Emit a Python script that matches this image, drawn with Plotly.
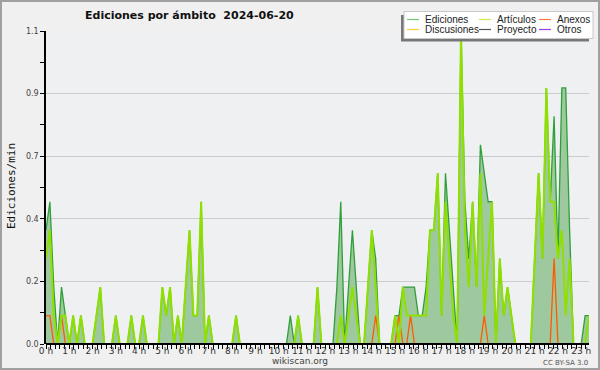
import plotly.graph_objects as go

# 10-minute slots of 2024-06-20, x in hours
slot_hours = [i / 6 for i in range(141)]

# edits per minute
ediciones = [
    0.4, 0.5, 0.2, 0, 0.2, 0.1, 0, 0.1, 0, 0.1,
    0, 0, 0, 0.1, 0.2, 0, 0, 0, 0.1, 0,
    0, 0, 0.1, 0, 0, 0.1, 0, 0, 0, 0,
    0.2, 0.1, 0.2, 0, 0.1, 0, 0.2, 0.4, 0.1, 0.1,
    0.5, 0, 0.1, 0, 0, 0, 0, 0, 0, 0.1,
    0, 0, 0, 0, 0, 0, 0, 0, 0, 0,
    0, 0, 0, 0.1, 0, 0.1, 0, 0, 0, 0,
    0.2, 0, 0, 0, 0, 0.2, 0.5, 0, 0.2, 0.4,
    0.2, 0, 0, 0.2, 0.4, 0.3, 0, 0, 0, 0,
    0.1, 0.1, 0.2, 0.2, 0.2, 0.2, 0.1, 0.1, 0.2, 0.4,
    0.4, 0.6, 0.1, 0.6, 0.4, 0.2, 0, 1.1, 0.5, 0.3,
    0.5, 0.2, 0.7, 0.6, 0.5, 0.5, 0, 0.3, 0.1, 0.2,
    0.1, 0, 0, 0, 0, 0, 0.3, 0.6, 0.3, 0.9,
    0.5, 0.8, 0.3, 0.9, 0.9, 0.4, 0, 0, 0, 0.1, 0.1,
]
articulos = [
    0.3, 0.4, 0.1, 0, 0.1, 0.1, 0, 0.1, 0, 0.1,
    0, 0, 0, 0.1, 0.2, 0, 0, 0, 0.1, 0,
    0, 0, 0.1, 0, 0, 0.1, 0, 0, 0, 0,
    0.2, 0.1, 0.2, 0, 0.1, 0, 0.2, 0.4, 0.1, 0.1,
    0.5, 0, 0.1, 0, 0, 0, 0, 0, 0, 0.1,
    0, 0, 0, 0, 0, 0, 0, 0, 0, 0,
    0, 0, 0, 0, 0, 0.1, 0, 0, 0, 0,
    0.2, 0, 0, 0, 0, 0, 0.1, 0, 0.1, 0.2,
    0.1, 0, 0, 0.2, 0.4, 0.2, 0, 0, 0, 0,
    0.1, 0, 0.2, 0.1, 0.1, 0.1, 0.1, 0.1, 0.1, 0.4,
    0.4, 0.6, 0.1, 0.5, 0.3, 0.1, 0, 1.1, 0.4, 0.2,
    0.5, 0.2, 0.6, 0.1, 0.3, 0.5, 0, 0.3, 0.1, 0.2,
    0.1, 0, 0, 0, 0, 0, 0.3, 0.6, 0.3, 0.9,
    0.5, 0.5, 0.3, 0.4, 0.1, 0.3, 0, 0, 0, 0, 0.1,
]
anexos = [
    0.1, 0.1, 0, 0, 0.1, 0, 0, 0, 0, 0,
    0, 0, 0, 0, 0, 0, 0, 0, 0, 0,
    0, 0, 0, 0, 0, 0, 0, 0, 0, 0,
    0, 0, 0, 0, 0, 0, 0, 0, 0, 0,
    0, 0, 0, 0, 0, 0, 0, 0, 0, 0,
    0, 0, 0, 0, 0, 0, 0, 0, 0, 0,
    0, 0, 0, 0, 0, 0, 0, 0, 0, 0,
    0, 0, 0, 0, 0, 0, 0, 0, 0, 0,
    0, 0, 0, 0, 0, 0.1, 0, 0, 0, 0,
    0, 0.1, 0, 0, 0.1, 0, 0, 0, 0, 0,
    0, 0, 0, 0, 0, 0, 0, 0, 0, 0,
    0, 0, 0, 0.1, 0, 0, 0, 0, 0, 0,
    0, 0, 0, 0, 0, 0, 0, 0, 0, 0,
    0, 0.3, 0, 0, 0, 0, 0, 0, 0, 0, 0,
]

hour_ticks = list(range(24))
hour_labels = [f"{h} h" for h in hour_ticks]
y_ticks = [0, 0.22, 0.44, 0.66, 0.88, 1.1]
y_labels = ["0.0", "0.2", "0.4", "0.7", "0.9", "1.1"]

legend_names = ["Ediciones", "Artículos", "Anexos", "Discusiones", "Proyecto", "Otros"]
legend_colors = ["#74c874", "#c8ec4a", "#ff7a45", "#ffc93c", "#555555", "#9a3cf0"]

W, H = 600, 370
L, R, T, B = 46, 11, 31, 26
PW, PH = W - L - R, H - T - B


def px(x):
    return (x - L) / PW


def py(y):
    return (H - B - y) / PH


fig = go.Figure()
fig.add_trace(go.Scatter(
    x=slot_hours, y=ediciones, name="Ediciones", mode="lines",
    line=dict(color="#2f9f3a", width=1.3),
    fill="tozeroy", fillcolor="rgb(158,201,158)", showlegend=False))
fig.add_trace(go.Scatter(
    x=slot_hours, y=anexos, name="Anexos", mode="lines",
    line=dict(color="#ff5a00", width=1.3), showlegend=False))
fig.add_trace(go.Scatter(
    x=slot_hours, y=articulos, name="Artículos", mode="lines",
    line=dict(color="#8fe000", width=2), showlegend=False))

shapes = []
annotations = []

# baseline and outer frame
shapes.append(dict(type="line", xref="paper", yref="paper", x0=0, x1=1, y0=0, y1=0,
                   line=dict(color="black", width=2), layer="above"))
shapes.append(dict(type="rect", xref="paper", yref="paper",
                   x0=px(1), x1=px(599), y0=py(369), y1=py(1),
                   line=dict(color="#a0a0a0", width=2), layer="above"))

# legend box with shadow
shapes.append(dict(type="rect", xref="paper", yref="paper",
                   x0=px(401), x1=px(589), y0=py(41.5), y1=py(15),
                   fillcolor="#777777", line=dict(width=0), layer="above"))
shapes.append(dict(type="rect", xref="paper", yref="paper",
                   x0=px(404), x1=px(593), y0=py(38.5), y1=py(11.5),
                   fillcolor="#ffffff", line=dict(color="#c8c8c8", width=1), layer="above"))
col_x = [407, 479, 539]
row_y = [19.5, 29.5]
for k, (name, col) in enumerate(zip(legend_names, legend_colors)):
    cx = col_x[k % 3]
    ry = row_y[k // 3]
    shapes.append(dict(type="line", xref="paper", yref="paper",
                       x0=px(cx), x1=px(cx + 12), y0=py(ry), y1=py(ry),
                       line=dict(color=col, width=1.2), layer="above"))
    annotations.append(dict(text=name, xref="paper", yref="paper",
                            x=px(cx + 16), y=py(ry), xanchor="left", yanchor="middle",
                            showarrow=False,
                            font=dict(family="Liberation Sans", size=10, color="#222222")))

annotations.append(dict(text="Ediciones/min", xref="paper", yref="paper",
                        x=px(11), y=py(186), textangle=-90, showarrow=False,
                        xanchor="center", yanchor="middle",
                        font=dict(family="DejaVu Sans Mono", size=11, color="#111111")))
annotations.append(dict(text="wikiscan.org", xref="paper", yref="paper",
                        x=px(300), y=py(361), showarrow=False,
                        xanchor="center", yanchor="middle",
                        font=dict(family="DejaVu Sans", size=9, color="#444444")))
annotations.append(dict(text="CC BY-SA 3.0", xref="paper", yref="paper",
                        x=px(590), y=py(362.5), showarrow=False,
                        xanchor="right", yanchor="middle",
                        font=dict(family="DejaVu Sans", size=7, color="#555555")))

fig.update_layout(
    width=W, height=H,
    margin=dict(l=L, r=R, t=T, b=B, autoexpand=False),
    paper_bgcolor="#f0f0f0", plot_bgcolor="#eff0f1",
    font=dict(family="DejaVu Sans", size=8, color="#333333"),
    title=dict(text="Ediciones por ámbito \u00a02024-06-20",
               x=85 / W, xanchor="left", xref="container",
               y=1 - 15 / H, yanchor="middle", yref="container",
               font=dict(family="DejaVu Sans", size=11, color="#111111", weight="bold")),
    showlegend=False,
    shapes=shapes, annotations=annotations,
    xaxis=dict(range=[0, slot_hours[-1]], tickmode="array", tickvals=hour_ticks,
               ticktext=hour_labels, ticks="", showgrid=False, zeroline=False,
               showline=False, tickfont=dict(size=9, color="#333333"),
               minor=dict(ticks="outside", dtick=0.2, tick0=0, ticklen=4,
                          tickcolor="black", tickwidth=1, showgrid=False)),
    yaxis=dict(range=[0, 1.1], tickmode="array", tickvals=y_ticks, ticktext=y_labels,
               ticks="outside", ticklen=4, tickcolor="black", tickwidth=1,
               showgrid=True, gridcolor="#cccccc", gridwidth=1, zeroline=False,
               showline=True, linecolor="black", linewidth=1.5,
               tickfont=dict(size=8, color="#444444"),
               minor=dict(ticks="outside", dtick=0.11, tick0=0, ticklen=4,
                          tickcolor="black", tickwidth=1, showgrid=False)),
)

fig.write_html("out.html", config={"displayModeBar": False},
               post_script="document.body.style.margin='0';")
